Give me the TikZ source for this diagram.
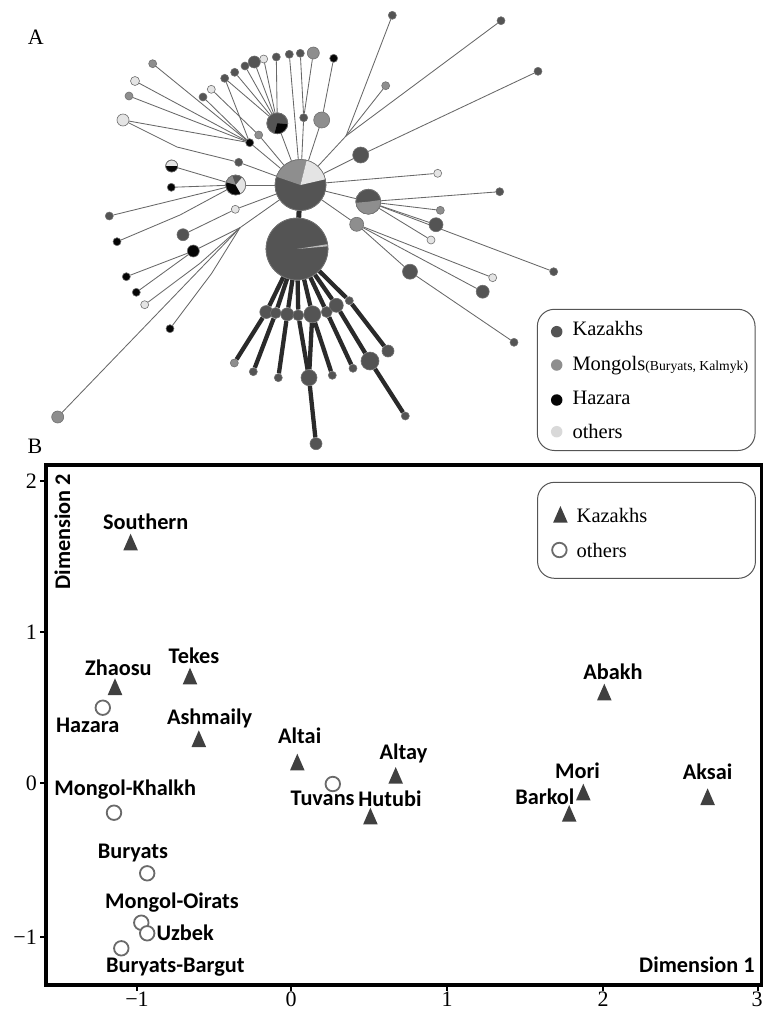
\documentclass[tikz,border=0pt]{standalone}
\usepackage{fontspec}
\setmainfont{Liberation Serif}
\newfontfamily\labfont{Carlito}
\usetikzlibrary{backgrounds}
\definecolor{kzc}{HTML}{545454}
\definecolor{mgc}{HTML}{8E8E8E}
\definecolor{hzc}{HTML}{050505}
\definecolor{otc}{HTML}{E4E4E4}
\definecolor{edgec}{HTML}{707070}
\definecolor{linec}{HTML}{686868}
\definecolor{thickc}{HTML}{2A2A2A}
\definecolor{tric}{HTML}{404040}
\definecolor{othc}{HTML}{6A6A6A}
\definecolor{legc}{HTML}{555555}
\definecolor{legot}{HTML}{D9D9D9}
\newcommand\mypie[5]{\fill[#5] (#1.center) -- ([shift={(#2:#4)}]#1.center) arc[start angle=#2, end angle=#3, radius=#4] -- cycle;}
\newcommand\ktri[2]{\coordinate (#1) at (#2); \fill[tric] ([shift={(0pt,9pt)}]#1) -- ([shift={(-7.3pt,-7.7pt)}]#1) -- ([shift={(7.3pt,-7.7pt)}]#1) -- cycle;}
\tikzset{
 nd/.style={circle, inner sep=0pt, draw=edgec, line width=0.6pt, minimum size=#1},
 ckz/.style={nd=#1, fill=kzc}, cmg/.style={nd=#1, fill=mgc},
 chz/.style={nd=#1, fill=hzc}, cot/.style={nd=#1, fill=otc},
 tline/.style={draw=linec, line width=0.85pt},
 kline/.style={draw=thickc, line width=4.3pt},
 lbl/.style={font=\labfont\bfseries\fontsize{22.3}{25}\selectfont, inner sep=0pt},
 oth/.style={circle, draw=othc, line width=1.8pt, minimum size=14.5pt, inner sep=0pt, fill=white},
 legtxt/.style={font=\fontsize{20.5}{24}\selectfont, inner sep=0pt, anchor=base west},
 tick/.style={font=\fontsize{22}{25}\selectfont, inner sep=0pt},
 legbox/.style={draw=legc, line width=1pt, rounded corners=17pt}
}
\begin{document}
\begin{tikzpicture}[x=1pt,y=-1pt]
\useasboundingbox (0,0) rectangle (764,1010);
% ---------- panel A ----------
\node[font=\fontsize{22}{26}\selectfont, inner sep=0pt] (labA) at (35.7,37.7) {A};
% hubs and pies
\node[ckz=51pt] (h1) at (300.5,185) {};
\node[ckz=62pt] (h2) at (297,249) {};
\node[ckz=21pt] (p1) at (277.3,123.3) {};
\node[ckz=20pt] (p2) at (235.7,185) {};
\node[cot=12pt] (hh) at (171.7,166) {};
\node[ckz=25pt] (p3) at (368.3,201.7) {};
% top-left group
\node[cmg=8pt] (a1) at (152.7,63.7) {};
\node[cot=9pt] (a2) at (135,81) {};
\node[cmg=8pt] (a3) at (129,96) {};
\node[cot=12pt] (a4) at (123,120) {};
\node[ckz=8pt] (a5) at (203,97) {};
\node[cot=8pt] (a6) at (211.3,89.3) {};
\node[chz=8pt] (b1) at (249.7,142.7) {};
\node[cmg=8pt] (g1) at (258.7,135) {};
\node[ckz=8pt] (d1) at (238.7,162.3) {};
% top arc
\node[ckz=8pt] (t1) at (224.7,78.3) {};
\node[ckz=8pt] (t2) at (234.7,72.3) {};
\node[ckz=8pt] (t3) at (245,66) {};
\node[ckz=12pt] (t4) at (254.3,62) {};
\node[cot=8pt] (t5) at (263.7,59) {};
\node[ckz=8pt] (t6) at (276.3,57) {};
\node[ckz=8pt] (t7) at (289.3,54.3) {};
\node[ckz=8pt] (t8) at (300.3,53.3) {};
\node[cmg=12pt] (t9) at (313.3,53) {};
\node[chz=8pt] (t10) at (333.7,58.3) {};
\node[ckz=8pt] (d2) at (303.7,117.7) {};
\node[cmg=16pt] (g2) at (321.7,120) {};
% upper right
\coordinate (j1) at (346,136);
\node[ckz=8pt] (r1) at (392.3,15.3) {};
\node[cmg=8pt] (r2) at (385.7,85.7) {};
\node[ckz=8pt] (r3) at (501,20.7) {};
\node[ckz=8pt] (r4) at (538,71.3) {};
\node[ckz=16pt] (d3) at (360.7,155) {};
% right
\node[cot=8pt] (r5) at (437.7,173.3) {};
\node[ckz=8pt] (r6) at (499.7,191.7) {};
\node[cmg=8pt] (r7) at (440.3,210.3) {};
\node[ckz=14pt] (r8) at (436,224.7) {};
\node[cot=8pt] (r9) at (431,240) {};
\node[ckz=8pt] (r10) at (553.7,271.7) {};
\node[cmg=14pt] (g3) at (356.7,224.3) {};
\node[ckz=15pt] (d4) at (410,271.7) {};
\node[ckz=8pt] (r11) at (514,342.3) {};
\node[ckz=13pt] (r12) at (482.7,291.7) {};
\node[cot=8pt] (r13) at (492.7,277.7) {};
% left
\node[chz=8pt] (l1) at (171.3,187.3) {};
\node[ckz=8pt] (l2) at (109.3,216) {};
\node[chz=8pt] (l3) at (117,241.7) {};
\node[cot=8pt] (l4) at (235.3,209.3) {};
\node[ckz=12pt] (l5) at (183,234.7) {};
\coordinate (j2) at (240,227.7);
\node[chz=12pt] (l6) at (193.3,251) {};
\node[chz=8pt] (l7) at (126.3,276.7) {};
\node[chz=8pt] (l8) at (136.3,292.3) {};
\coordinate (j3) at (200,263.3);
\node[cot=8pt] (l9) at (144.7,304.7) {};
\coordinate (j4) at (211.7,273.3);
\node[chz=8pt] (l10) at (170,328.7) {};
\node[cmg=12pt] (l11) at (57.7,417) {};
\coordinate (k1) at (177,147);
\coordinate (k2) at (180,215);
% bottom fan
\node[ckz=13pt] (w1) at (266.3,312) {};
\node[ckz=11pt] (w2) at (275.7,313) {};
\node[ckz=13pt] (w3) at (287.3,314.3) {};
\node[ckz=11pt] (w4) at (298.3,315.3) {};
\node[ckz=17pt] (w5) at (312.3,314.3) {};
\node[ckz=11pt] (w6) at (326.7,312) {};
\node[ckz=14pt] (w7) at (336.3,305.3) {};
\node[ckz=8pt] (w8) at (349.3,300.7) {};
\node[cmg=8pt] (v1) at (234.3,363) {};
\node[ckz=8pt] (v2) at (253.3,371.7) {};
\node[ckz=8pt] (v3) at (278.3,377.7) {};
\node[ckz=16pt] (v4) at (309,377.7) {};
\node[ckz=12pt] (v5) at (316,443.7) {};
\node[ckz=8pt] (v6) at (332.3,375.3) {};
\node[ckz=8pt] (v7) at (353,368.3) {};
\node[ckz=18pt] (v8) at (370,361) {};
\node[ckz=12pt] (v9) at (388,351) {};
\node[ckz=8pt] (v10) at (405.3,416) {};
% pies
\mypie{h1}{76}{161}{25.5pt}{mgc}
\mypie{h1}{13}{76}{25.5pt}{otc}
\draw[edgec, line width=0.6pt] (h1.center) circle[radius=25.5pt];
\mypie{h2}{5}{9}{31pt}{mgc!60!white}
\draw[edgec, line width=0.6pt] (h2.center) circle[radius=31pt];
\mypie{p1}{-105}{-5}{10.5pt}{hzc}
\draw[edgec, line width=0.6pt] (p1.center) circle[radius=10.5pt];
\mypie{p2}{110}{165}{10pt}{mgc}
\mypie{p2}{165}{300}{10pt}{hzc}
\mypie{p2}{300}{410}{10pt}{otc}
\draw[edgec, line width=0.6pt] (p2.center) circle[radius=10pt];
\mypie{hh}{180}{360}{6pt}{hzc}
\draw[edgec, line width=0.6pt] (hh.center) circle[radius=6pt];
\mypie{p3}{185}{368}{12.5pt}{mgc}
\draw[edgec, line width=0.6pt] (p3.center) circle[radius=12.5pt];
% edges
\begin{scope}[on background layer]
\draw[tline] (a1) -- (b1); \draw[tline] (a2) -- (b1); \draw[tline] (a3) -- (b1);
\draw[tline] (a4) -- (b1); \draw[tline] (a5) -- (b1); \draw[tline] (b1) -- (h1);
\draw[tline] (a4) -- (k1) -- (d1); \draw[tline] (d1) -- (h1);
\draw[tline] (a6) -- (g1); \draw[tline] (g1) -- (h1);
\draw[tline] (t1) -- (p1); \draw[tline] (t1) -- (b1); \draw[tline] (t2) -- (p1);
\draw[tline] (t3) -- (p1); \draw[tline] (t4) -- (p1); \draw[tline] (t5) -- (p1);
\draw[tline] (t6) -- (p1); \draw[tline] (p1) -- (h1);
\draw[tline] (t7) -- (h1);
\draw[tline] (t8) -- (d2); \draw[tline] (t9) -- (d2); \draw[tline] (d2) -- (h1);
\draw[tline] (t10) -- (g2); \draw[tline] (g2) -- (h1);
\draw[tline] (r1) -- (j1); \draw[tline] (r2) -- (j1); \draw[tline] (r3) -- (j1); \draw[tline] (j1) -- (h1);
\draw[tline] (r4) -- (d3); \draw[tline] (d3) -- (h1);
\draw[tline] (r5) -- (h1);
\draw[tline] (h1) -- (p3);
\draw[tline] (p3) -- (r6); \draw[tline] (p3) -- (r7); \draw[tline] (p3) -- (r8);
\draw[tline] (p3) -- (r9); \draw[tline] (p3) -- (r10);
\draw[tline] (h1) -- (g3); \draw[tline] (g3) -- (d4); \draw[tline] (d4) -- (r11);
\draw[tline] (g3) -- (r12); \draw[tline] (g3) -- (r13);
\draw[tline] (hh) -- (p2); \draw[tline] (l1) -- (p2); \draw[tline] (l2) -- (p2);
\draw[tline] (l3) -- (k2) -- (p2); \draw[tline] (p2) -- (h1);
\draw[tline] (l4) -- (h1); \draw[tline] (l5) -- (l4);
\draw[tline] (j2) -- (h1); \draw[tline] (j2) -- (l6); \draw[tline] (l6) -- (l7); \draw[tline] (l6) -- (l8);
\draw[tline] (j2) -- (j3) -- (l9); \draw[tline] (j2) -- (j4) -- (l10); \draw[tline] (j2) -- (l11);
% thick
\draw[kline, line width=5pt] (h1) -- (h2);
\foreach \w in {w1,w2,w3,w4,w5,w6,w7,w8} {\draw[kline] (h2) -- (\w);}
\draw[kline] (w1) -- (v1); \draw[kline] (w2) -- (v2); \draw[kline] (w3) -- (v3);
\draw[kline] (w4) -- (v4); \draw[kline] (w5) -- (v4); \draw[kline] (w5) -- (v6);
\draw[kline] (w6) -- (v7); \draw[kline] (w7) -- (v8); \draw[kline] (w8) -- (v9);
\draw[kline] (v4) -- (v5); \draw[kline] (v8) -- (v10);
\end{scope}
% legend A
\node[legbox, minimum width=217.7pt, minimum height=141.2pt, inner sep=0pt] (legA) at (646.2,379.9) {};
\node[circle, fill=kzc, minimum size=11.5pt, inner sep=0pt] (lgk) at (556.7,331.7) {};
\node[circle, fill=mgc, minimum size=11.5pt, inner sep=0pt] (lgm) at (556.7,365) {};
\node[circle, fill=hzc, minimum size=11.5pt, inner sep=0pt] (lgh) at (556.7,400) {};
\node[circle, fill=legot, minimum size=11.5pt, inner sep=0pt] (lgo) at (556.7,431.7) {};
\node[legtxt] (lgkt) at (572.3,335.7) {Kazakhs};
\node[legtxt] (lgmt) at (572.3,370) {Mongols{\fontsize{13.7}{15}\selectfont(Buryats, Kalmyk)}};
\node[legtxt] (lght) at (572.3,404.3) {Hazara};
\node[legtxt] (lgot) at (572.3,438.3) {others};
% ---------- panel B ----------
\node[font=\fontsize{22}{26}\selectfont, inner sep=0pt] (labB) at (35,446.7) {B};
\coordinate (fTL) at (46,465);
\coordinate (fBR) at (761.5,985);
\draw[line width=3.8pt] (fTL) rectangle (fBR);
% ticks
\foreach \v/\yy in {2/481,1/632,0/783,-1/937} {\draw[line width=1.5pt] (40,\yy) -- (46,\yy);}
\foreach \xx in {137,291,447,603,758} {\draw[line width=1.5pt] (\xx,985) -- (\xx,991);}
\node[tick, anchor=east] (ty2) at (37,481) {2};
\node[tick, anchor=east] (ty1) at (37,632) {1};
\node[tick, anchor=east] (ty0) at (37,783) {0};
\node[tick, anchor=east] (tym) at (37,937) {−1};
\node[tick] (txm) at (137,999) {−1};
\node[tick] (tx0) at (291,999) {0};
\node[tick] (tx1) at (447,999) {1};
\node[tick] (tx2) at (603,999) {2};
\node[tick] (tx3) at (757,999) {3};
\node[lbl, rotate=90] (ylab) at (62.4,531.5) {Dimension 2};
\node[lbl] (xlab) at (697,965) {Dimension 1};
% legend B
\node[legbox, minimum width=217.9pt, minimum height=96pt, inner sep=0pt] (legB) at (646.5,530.3) {};
\ktri{lbtri}{560.4,515}
\node[oth] (lbcir) at (559.4,550) {};
\node[legtxt] (lbk) at (576.5,522.7) {Kazakhs};
\node[legtxt] (lbo) at (576.5,557.3) {others};
% data points
\ktri{pSouthern}{130.6,542.7}
\ktri{pZhaosu}{115,687.3}
\ktri{pTekes}{190,676.7}
\ktri{pAshmaily}{198.8,739.3}
\ktri{pAbakh}{604.3,692.7}
\ktri{pAltai}{297.3,762.7}
\ktri{pAltay}{395.7,776}
\ktri{pHutubi}{370.4,816.7}
\ktri{pMori}{583.3,792.7}
\ktri{pBarkol}{569.2,814}
\ktri{pAksai}{707.6,797.3}
\node[oth] (pHazara) at (102.8,707.7) {};
\node[oth] (pTuvans) at (332.8,784) {};
\node[oth] (pKhalkh) at (114,812.7) {};
\node[oth] (pBuryats) at (147.2,873.3) {};
\node[oth] (pOirats) at (141.3,922.7) {};
\node[oth] (pUzbek) at (147.2,933.3) {};
\node[oth] (pBargut) at (121.3,948.3) {};
% point labels
\node[lbl] (nSouthern) at (145.7,521.7) {Southern};
\node[lbl] (nZhaosu) at (118.4,667.3) {Zhaosu};
\node[lbl] (nTekes) at (194,655.7) {Tekes};
\node[lbl] (nHazara) at (87.7,725.3) {Hazara};
\node[lbl] (nAshmaily) at (209.6,718.3) {Ashmaily};
\node[lbl] (nAbakh) at (613,671.7) {Abakh};
\node[lbl] (nAltai) at (299.7,736) {Altai};
\node[lbl] (nAltay) at (403.5,753.3) {Altay};
\node[lbl] (nTuvans) at (322.6,798.3) {Tuvans};
\node[lbl] (nHutubi) at (389.9,798.3) {Hutubi};
\node[lbl] (nMori) at (577.5,771) {Mori};
\node[lbl] (nBarkol) at (544.8,796.7) {Barkol};
\node[lbl] (nAksai) at (707.6,771.7) {Aksai};
\node[lbl] (nKhalkh) at (125.2,789.3) {Mongol-Khalkh};
\node[lbl] (nBuryats) at (133,853.3) {Buryats};
\node[lbl] (nOirats) at (172,902.7) {Mongol-Oirats};
\node[lbl] (nUzbek) at (185.2,932.7) {Uzbek};
\node[lbl] (nBargut) at (175.4,966.7) {Buryats-Bargut};
\end{tikzpicture}
\end{document}
